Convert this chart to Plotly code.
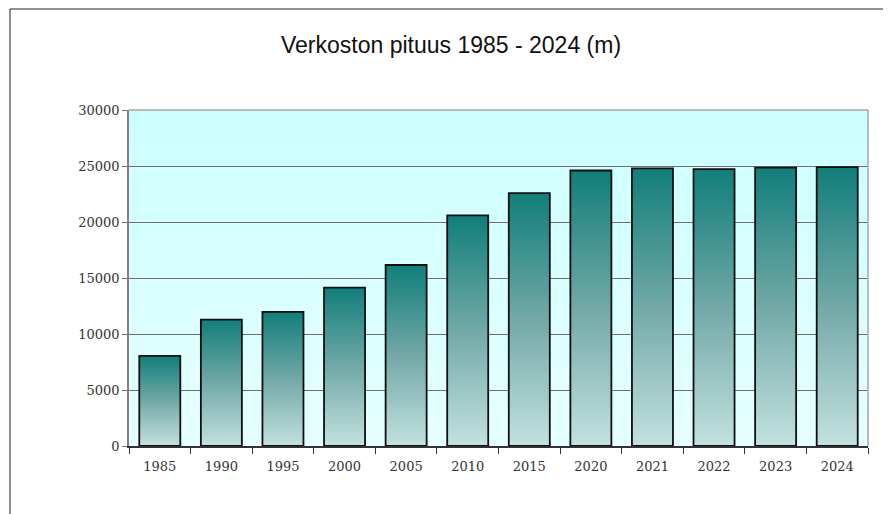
import base64
import plotly.graph_objects as go

years = ["1985", "1990", "1995", "2000", "2005", "2010",
         "2015", "2020", "2021", "2022", "2023", "2024"]
lengths = [8050, 11290, 11970, 14140, 16160, 20590,
           22580, 24600, 24780, 24720, 24860, 24900]
y_ticks = [0, 5000, 10000, 15000, 20000, 25000, 30000]

# the page body adds an 8px margin on top/left, so the figure is 8px smaller
OFF = 8
W, H = 891 - OFF, 514 - OFF
L, R, T, B = 129 - OFF, 23, 110 - OFF, 68
half = 0.333

# plot background gradient (cyan, lighter toward the bottom)
svg = ('<svg xmlns="http://www.w3.org/2000/svg" width="10" height="100" preserveAspectRatio="none">'
       '<defs><linearGradient id="g" x1="0" y1="0" x2="0" y2="1">'
       '<stop offset="0" stop-color="#ccffff"/><stop offset="1" stop-color="#e6ffff"/>'
       '</linearGradient></defs><rect width="10" height="100" fill="url(#g)"/></svg>')
bg_src = "data:image/svg+xml;base64," + base64.b64encode(svg.encode()).decode()

fig = go.Figure()

for i, (yr, v) in enumerate(zip(years, lengths)):
    fig.add_trace(go.Scatter(
        x=[i - half, i - half, i + half, i + half, i - half],
        y=[0, v, v, 0, 0],
        mode="lines",
        fill="toself",
        fillgradient=dict(type="vertical",
                          colorscale=[[0, "#c3e1df"], [0.5, "#72a9a7"],
                                      [1, "#117e7a"]]),
        line=dict(color="#101010", width=1.8),
        name=yr,
        hoverinfo="text",
        text=f"{yr}: {v}",
        showlegend=False
    ))

pw = W - L - R
ph = H - T - B

fig.update_layout(
    width=W,
    height=H,
    margin=dict(l=L, r=R, t=T, b=B),
    paper_bgcolor="white",
    plot_bgcolor="#d6ffff",
    title=dict(text="Verkoston pituus 1985 - 2024 (m)",
               font=dict(family="Liberation Sans, Arial", size=23, color="#111"),
               x=(451 - OFF) / W, xref="container", xanchor="center",
               y=1 - (45 - OFF) / H, yref="container", yanchor="middle"),
    images=[dict(source=bg_src, xref="paper", yref="paper", x=0, y=1,
                 sizex=1, sizey=1, sizing="stretch", layer="below")],
    shapes=[
        # outer frame (left and top edges visible)
        dict(type="rect", xref="paper", yref="paper",
             x0=(10 - OFF - L) / pw, x1=(W + 20 - L) / pw,
             y0=-(B + 20) / ph, y1=(H - (9 - OFF) - B) / ph,
             line=dict(color="#222", width=1), layer="below"),
        # plot area top and right edges
        dict(type="line", xref="paper", yref="paper", x0=0, x1=1, y0=1, y1=1,
             line=dict(color="#a6a6a6", width=1.5)),
        dict(type="line", xref="paper", yref="paper", x0=1, x1=1, y0=0, y1=1,
             line=dict(color="#a6a6a6", width=1.5)),
    ],
    xaxis=dict(
        range=[-0.5, len(years) - 0.5],
        tickmode="array",
        tickvals=list(range(len(years))),
        ticktext=years,
        ticks="",
        ticklabelstandoff=8,
        showgrid=False,
        zeroline=False,
        showline=True,
        linecolor="#333",
        linewidth=1.5,
        tickfont=dict(family="DejaVu Serif", size=13, color="#333"),
        minor=dict(tickmode="array",
                   tickvals=[i - 0.5 for i in range(len(years) + 1)],
                   ticks="outside", ticklen=6, tickcolor="#333", tickwidth=1,
                   showgrid=False),
        fixedrange=True
    ),
    yaxis=dict(
        range=[0, 30000],
        tickmode="array",
        tickvals=y_ticks,
        ticktext=[str(t) for t in y_ticks],
        ticks="outside",
        ticklen=5,
        tickcolor="#777",
        showgrid=True,
        gridcolor="#6f6f6f",
        gridwidth=1,
        zeroline=False,
        showline=True,
        linecolor="#808080",
        linewidth=1.5,
        tickfont=dict(family="DejaVu Serif", size=13, color="#333"),
        fixedrange=True
    )
)

fig.write_html("out.html")
